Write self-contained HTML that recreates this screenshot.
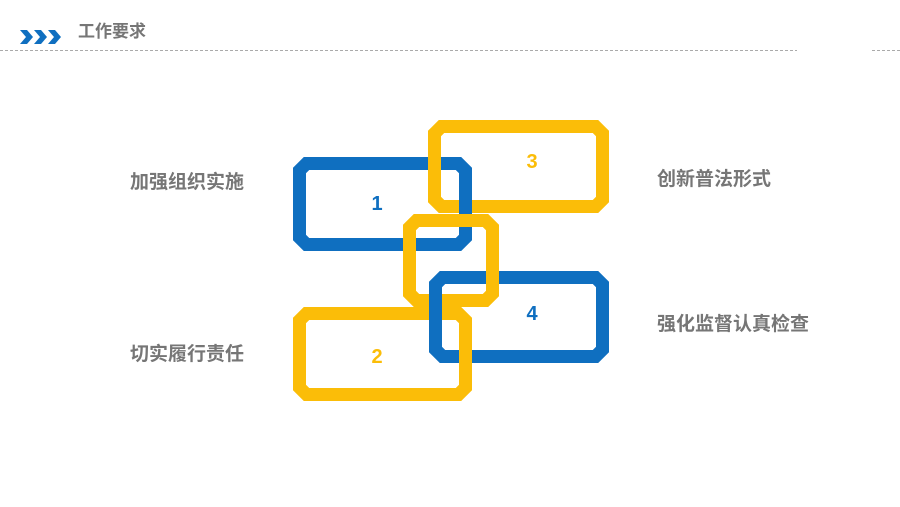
<!DOCTYPE html>
<html><head><meta charset="utf-8"><style>
body{margin:0;width:900px;height:507px;background:#fff;overflow:hidden;position:relative;font-family:"Liberation Sans","Noto Sans CJK SC",sans-serif}
.t{position:absolute;color:#767676;font-weight:bold;font-size:19px;line-height:20px;white-space:nowrap}
</style></head><body>
<svg width="900" height="507" style="position:absolute;left:0;top:0">
<g fill="#0f6fc0">
<polygon points="20,30 27,30 33,37 27,44 20,44 26,37"/>
<polygon points="34,30 41,30 47,37 41,44 34,44 40,37"/>
<polygon points="48,30 55,30 61,37 55,44 48,44 54,37"/>
</g>
<line x1="0" y1="50.5" x2="797" y2="50.5" stroke="#aaa" stroke-dasharray="3,2"/>
<line x1="872" y1="50.5" x2="900" y2="50.5" stroke="#aaa" stroke-dasharray="3,2"/>
<g fill="none" stroke-width="13" stroke-linejoin="miter">
<polygon stroke="#0f6fc0" points="306.5,163.5 458.5,163.5 465.5,170.5 465.5,237.5 458.5,244.5 306.5,244.5 299.5,237.5 299.5,170.5"/>
<polygon stroke="#fbbd08" points="441.5,126.5 595.5,126.5 602.5,133.5 602.5,199.5 595.5,206.5 441.5,206.5 434.5,199.5 434.5,133.5"/>
<line stroke="#0f6fc0" x1="465.5" y1="185" x2="465.5" y2="230"/>
<polygon stroke="#fbbd08" points="416.5,220.5 485.5,220.5 492.5,227.5 492.5,293.5 485.5,300.5 416.5,300.5 409.5,293.5 409.5,227.5"/>
<line stroke="#0f6fc0" x1="425" y1="244.5" x2="455" y2="244.5"/>
<polygon stroke="#0f6fc0" points="442.5,277.5 595.5,277.5 602.5,284.5 602.5,349.5 595.5,356.5 442.5,356.5 435.5,349.5 435.5,284.5"/>
<line stroke="#fbbd08" x1="492.5" y1="260" x2="492.5" y2="290"/>
<polygon stroke="#fbbd08" points="306.5,313.5 458.5,313.5 465.5,320.5 465.5,387.5 458.5,394.5 306.5,394.5 299.5,387.5 299.5,320.5"/>
<line stroke="#0f6fc0" x1="435.5" y1="300" x2="435.5" y2="340"/>
</g>
<g font-family="Liberation Sans" font-weight="bold" font-size="20" text-anchor="middle">
<text x="377" y="210" fill="#0f6fc0">1</text>
<text x="532" y="168" fill="#fbbd08">3</text>
<text x="532" y="320" fill="#0f6fc0">4</text>
<text x="377" y="363" fill="#fbbd08">2</text>
</g>
</svg>
<div class="t" style="left:78px;top:22px;font-size:17px;">工作要求</div>
<div class="t" style="left:130px;top:173px">加强组织实施</div>
<div class="t" style="left:130px;top:345px">切实履行责任</div>
<div class="t" style="left:657px;top:170px">创新普法形式</div>
<div class="t" style="left:657px;top:315px">强化监督认真检查</div>
</body></html>
